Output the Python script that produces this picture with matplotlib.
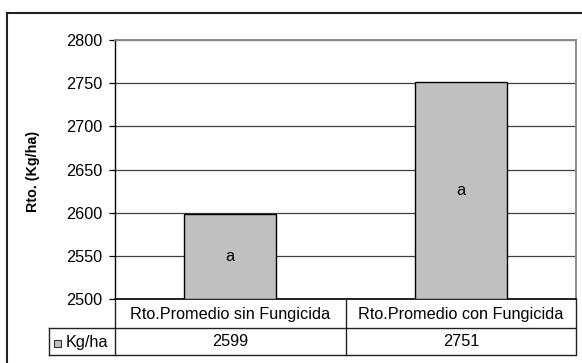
import matplotlib
matplotlib.use("Agg")
import matplotlib.pyplot as plt
from matplotlib.lines import Line2D
from matplotlib.patches import Rectangle
from matplotlib.transforms import blended_transform_factory

categories = ["Rto.Promedio sin Fungicida", "Rto.Promedio con Fungicida"]
yields = [2599, 2751]
letters = ["a", "a"]
series_name = "Kg/ha"
y_ticks = [2500, 2550, 2600, 2650, 2700, 2750, 2800]
y_label = "Rto. (Kg/ha)"

plt.rcParams["font.family"] = ["Liberation Sans", "DejaVu Sans"]
FS = 11.7

W, H = 582, 363
fig = plt.figure(figsize=(W / 100, H / 100), dpi=100)


def fx(px):
    return px / W


def fy(py):
    return 1 - py / H


left, right, top, bottom = 115, 576, 40, 299
ax = fig.add_axes([fx(left), fy(bottom), fx(right - left), (bottom - top) / H])

x = list(range(len(categories)))
ax.bar(x, [v - y_ticks[0] for v in yields], bottom=y_ticks[0], width=0.4,
       color="#c0c0c0", edgecolor="black", linewidth=1.0, zorder=3)
for xi, v, lab in zip(x, yields, letters):
    ax.text(xi, (y_ticks[0] + v) / 2, lab, ha="center", va="center",
            fontsize=FS, zorder=4)

ax.set_xlim(-0.5, len(categories) - 0.5)
ax.set_ylim(y_ticks[0], y_ticks[-1])
ax.set_yticks(y_ticks)
ax.set_yticklabels([str(t) for t in y_ticks], fontsize=FS)
ax.set_xticks([])
ax.yaxis.grid(True, color="#404040", linewidth=0.9, zorder=1)
ax.tick_params(axis="y", length=4, width=0.9, color="black", pad=5)
ax.spines["left"].set_color("black")
ax.spines["left"].set_linewidth(1.0)
ax.spines["bottom"].set_color("black")
ax.spines["bottom"].set_linewidth(1.2)
for s in ("top", "right"):
    ax.spines[s].set_color("#8a8a8a")
    ax.spines[s].set_linewidth(1.4)

fig.text(fx(33), fy(171), y_label, rotation=90, ha="center", va="center",
         fontsize=10.3, fontweight="bold")

# data table under the plot
row1, row2, row3 = 299, 328, 355
tx = blended_transform_factory(ax.transData, fig.transFigure)
xb = [-0.5 + i for i in range(len(categories) + 1)]
lc = "#222222"
lw = 1.0
fig.add_artist(Line2D([fx(49), fx(575)], [fy(row2), fy(row2)], color=lc, lw=lw))
fig.add_artist(Line2D([fx(49), fx(575)], [fy(row3), fy(row3)], color=lc, lw=lw))
fig.add_artist(Line2D([fx(49), fx(49)], [fy(row2), fy(row3)], color=lc, lw=lw))
for b in xb:
    fig.add_artist(Line2D([b, b], [fy(row1), fy(row3)], color=lc, lw=lw,
                          transform=tx))
for xi, cat, v in zip(x, categories, yields):
    fig.text(xi, fy((row1 + row2) / 2 + 0.5), cat, transform=tx,
             ha="center", va="center", fontsize=FS)
    fig.text(xi, fy((row2 + row3) / 2 + 0.5), str(v), transform=tx,
             ha="center", va="center", fontsize=FS)

fig.add_artist(Rectangle((fx(54), fy(347)), fx(7), 7 / H, facecolor="#c0c0c0",
                         edgecolor="#333333", lw=0.8))
fig.text(fx(66), fy(342), series_name, ha="left", va="center", fontsize=FS)

# outer chart frame
fig.add_artist(Line2D([fx(7), fx(582)], [fy(13), fy(13)], color="#222222", lw=1.5))
fig.add_artist(Line2D([fx(7), fx(7)], [fy(13), fy(363)], color="#222222", lw=1.5))

fig.savefig("out.png", dpi=100)
